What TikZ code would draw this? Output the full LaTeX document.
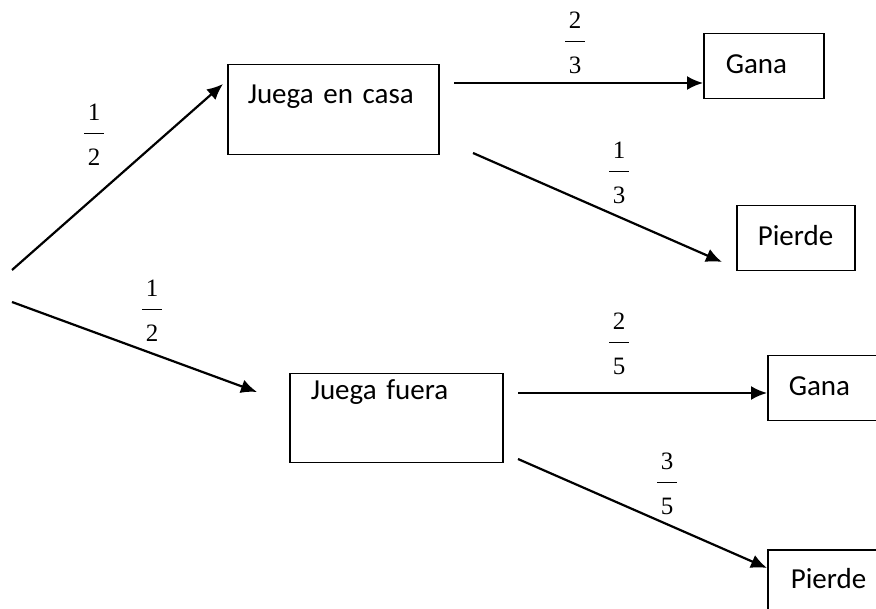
\documentclass[tikz,border=0pt]{standalone}
\usepackage{fontspec}
\setmainfont{Liberation Serif}
\newfontfamily\calibri{Carlito}
\usetikzlibrary{arrows.meta}

% fraccion: numerador, raya, denominador
\newcommand{\fraccion}[2]{\vbox{\hbox to 20pt{\hss#1\hss}\kern12pt\hrule height 1.2pt\kern15pt\hbox to 20pt{\hss#2\hss}}}

\tikzset{
caja/.style={draw, line width=1.5pt, anchor=north west, inner ysep=0pt, align=left, font=\calibri\fontsize{29}{34}\selectfont},
prob/.style={inner sep=0pt, font=\fontsize{25}{30}\selectfont},
flecha/.style={-{Latex[length=16pt,width=14pt]}, line width=2.2pt}
}

\begin{document}
\begin{tikzpicture}[x=1pt,y=-1pt]
\useasboundingbox (0,0) rectangle (876,609);
\clip (0,0) rectangle (876,609);

\node[caja, inner xsep=20pt, text width=171pt, text height=39pt, text depth=51pt](casa) at (227,64){Juega en casa};
\node[caja, inner xsep=21pt, text width=171pt, text height=26pt, text depth=63pt](fuera) at (289,373){Juega fuera};
\node[caja, inner xsep=22pt, text width=76pt, text height=40pt, text depth=25pt](ganaA) at (703,33){Gana};
\node[caja, inner xsep=21pt, text width=76pt, text height=40pt, text depth=25pt](pierdeA) at (736,205){Pierde};
\node[caja, inner xsep=21pt, text width=78pt, text height=40pt, text depth=25pt](ganaB) at (767,355){Gana};
\node[caja, inner xsep=23pt, text width=76pt, text height=39pt, text depth=25pt](pierdeB) at (767,549){Pierde};

\coordinate (inicioA) at (12,270);
\coordinate (inicioB) at (12,302);
\coordinate (finA) at (223,84);
\coordinate (finB) at (257,392);
\coordinate (casaG) at (454,83);
\coordinate (casaP) at (473,153);
\coordinate (fueraG) at (518,393);
\coordinate (fueraP) at (518,459);
\coordinate (finGA) at (703,83);
\coordinate (finPA) at (722,262);
\coordinate (finGB) at (767,393);
\coordinate (finPB) at (767,568);

\node[prob](pA) at (94,135){\fraccion{1}{2}};
\node[prob](pB) at (152,311){\fraccion{1}{2}};
\node[prob](pC) at (575,43){\fraccion{2}{3}};
\node[prob](pD) at (619,173){\fraccion{1}{3}};
\node[prob](pE) at (619,344){\fraccion{2}{5}};
\node[prob](pF) at (667,484){\fraccion{3}{5}};

\path
(inicioA) edge[flecha] (finA)
(inicioB) edge[flecha] (finB)
(casaG) edge[flecha] (finGA)
(casaP) edge[flecha] (finPA)
(fueraG) edge[flecha] (finGB)
(fueraP) edge[flecha] (finPB);
\end{tikzpicture}
\end{document}
